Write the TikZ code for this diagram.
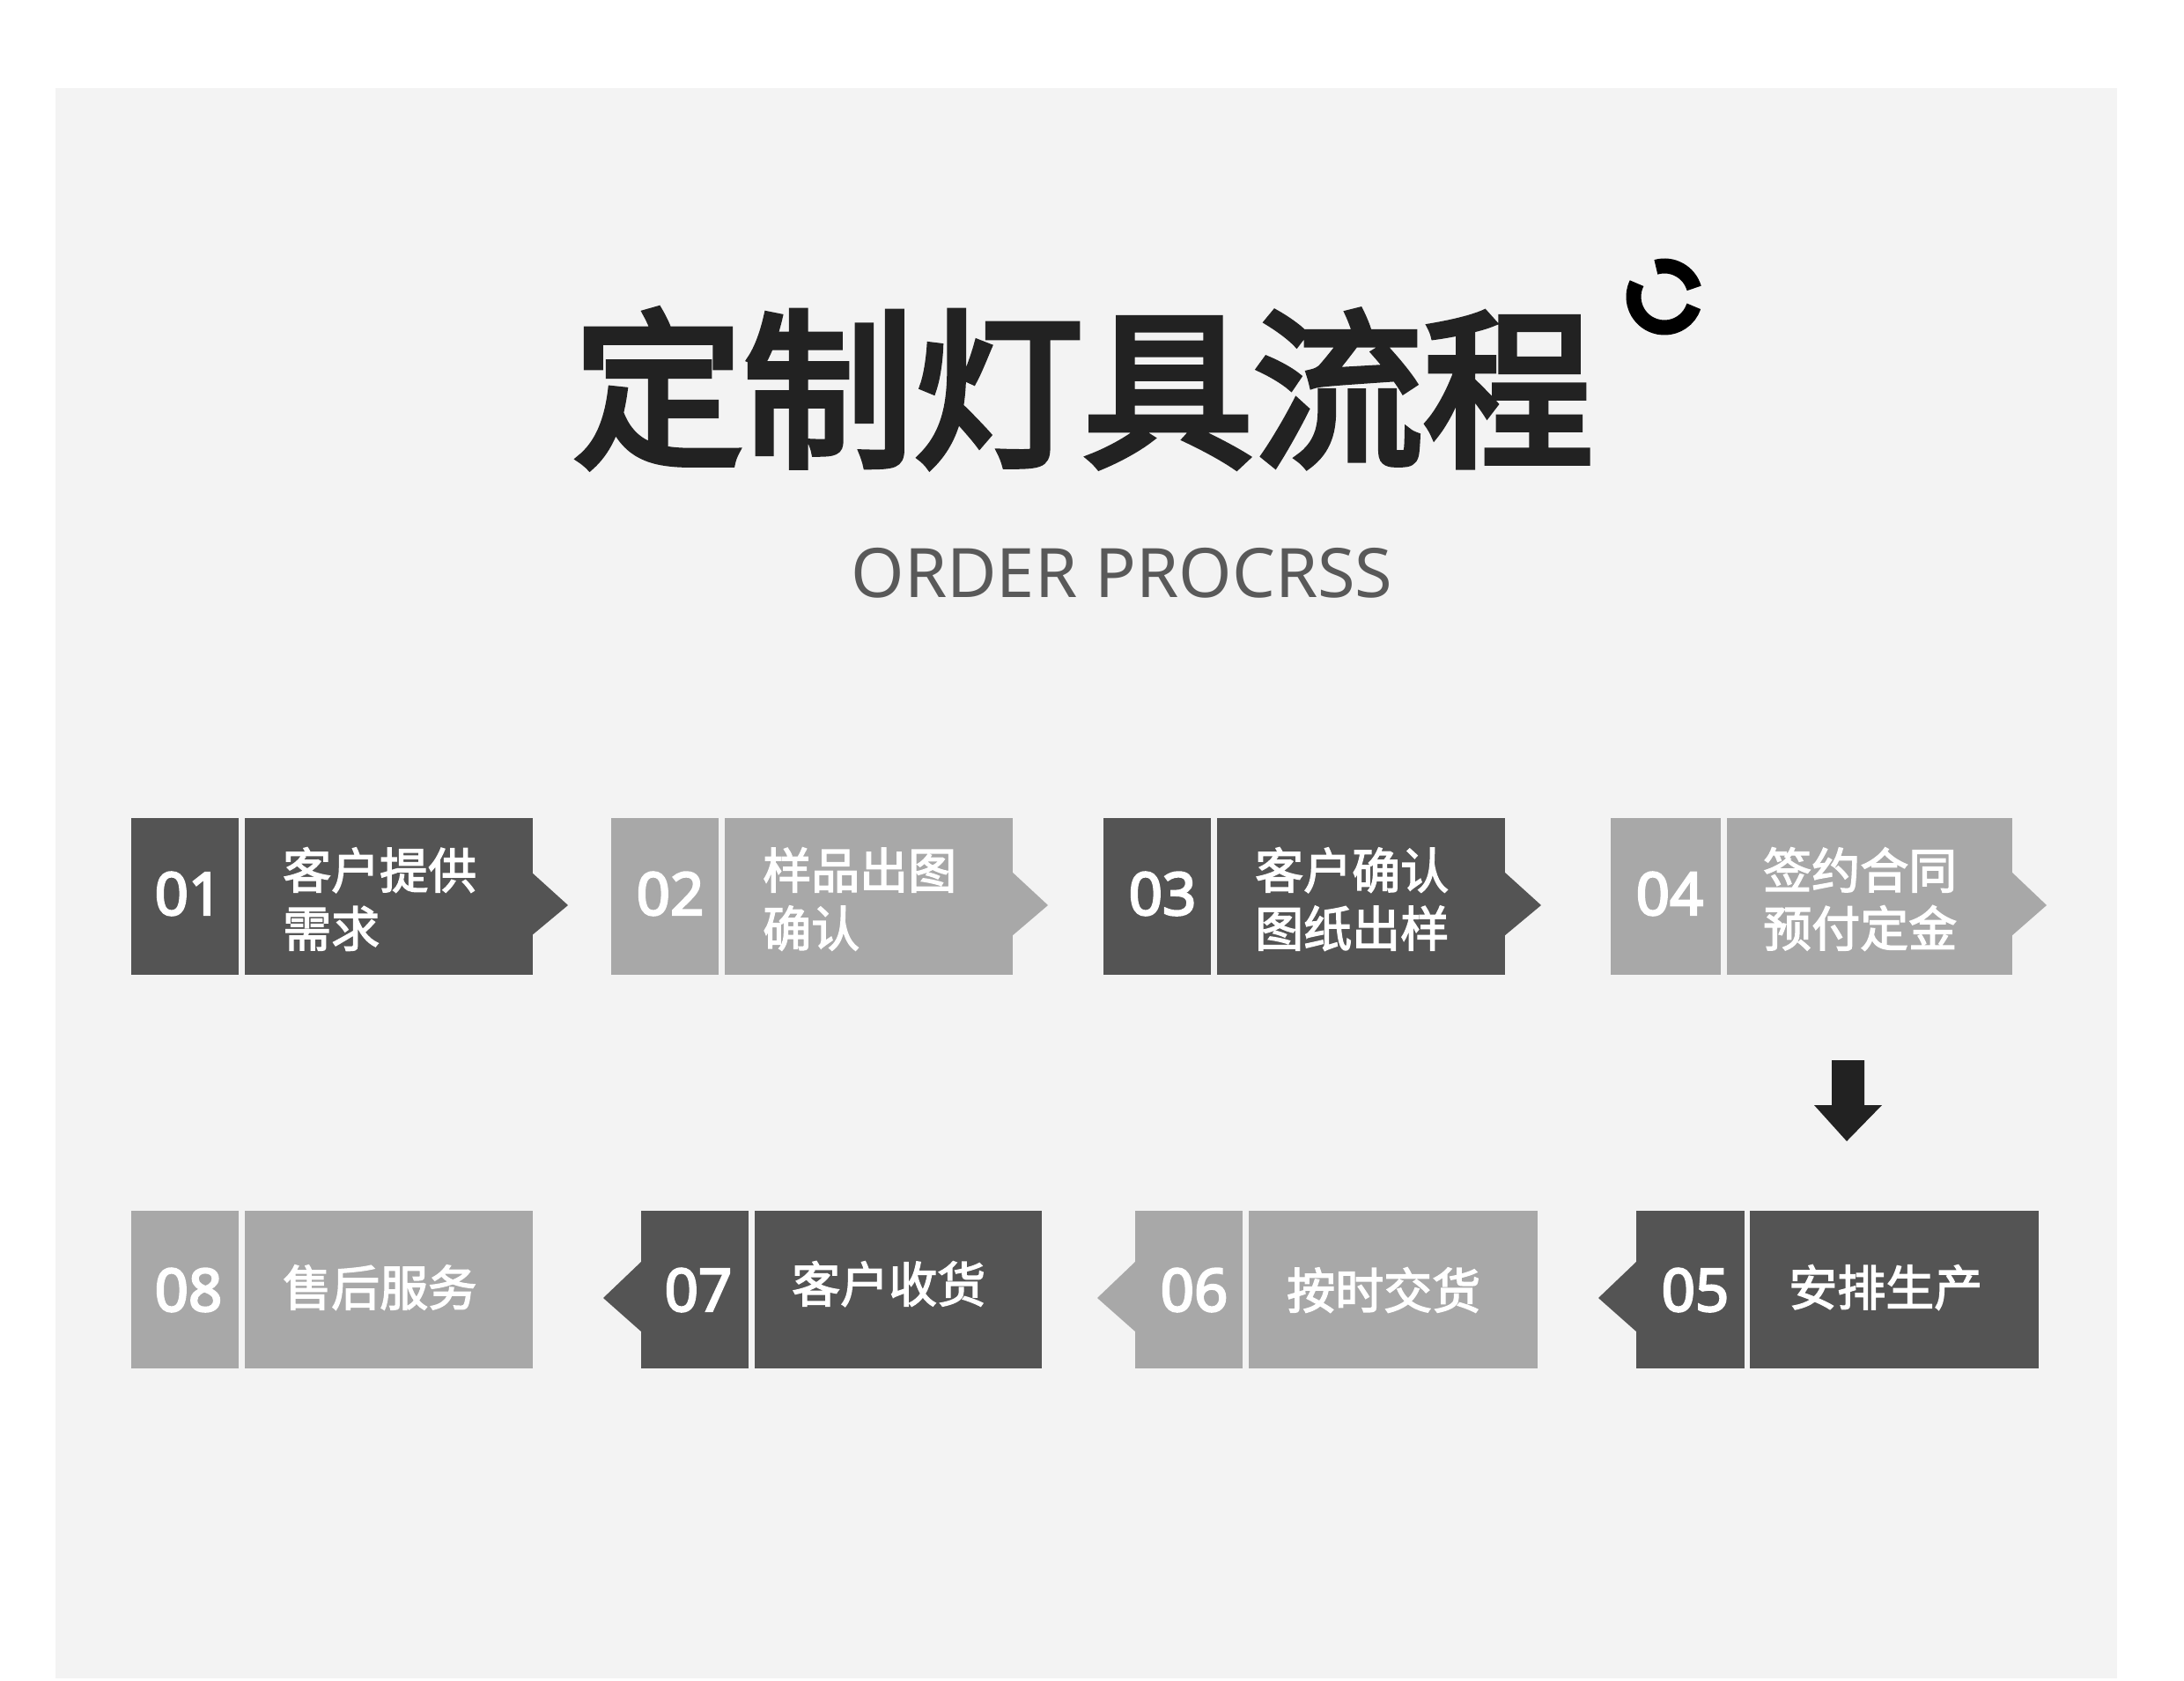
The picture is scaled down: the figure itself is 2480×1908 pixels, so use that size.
\documentclass[tikz,border=0pt]{standalone}
\usepackage{fontspec}
\newfontfamily\titlefont[RawFeature={embolden=4.0}]{Noto Sans CJK SC}
\newfontfamily\cjklabel[RawFeature={embolden=2.6}]{Noto Sans CJK SC}
\newfontfamily\numfont[RawFeature={embolden=3.5}]{Noto Sans}
\newfontfamily\subfont{Noto Sans}
\definecolor{panel}{HTML}{F3F3F3}
\definecolor{stepdark}{HTML}{545454}
\definecolor{steplight}{HTML}{A8A8A8}
\definecolor{ink}{HTML}{222222}
\definecolor{subink}{HTML}{595959}
\tikzset{
  stepbox/.style={inner sep=0pt,outer sep=0pt,draw=none},
  numtext/.style={inner sep=0pt,text=white,font=\numfont\fontsize{67}{67}\selectfont},
  steptext/.style={inner sep=0pt,text=white,align=left,font=\cjklabel\fontsize{55}{66}\selectfont},
}
% id colour x0 x1 y0 y1
\newcommand{\stepnode}[6]{\node[stepbox,fill=#2,minimum width={#4-#3},minimum height={#6-#5}] (#1) at ({(#3+#4)/2},{(#5+#6)/2}) {};}
\begin{document}
\begin{tikzpicture}[x=1pt,y=-1pt]
\useasboundingbox (0,0) rectangle (2480,1908);
\fill[white] (0,0) rectangle (2480,1908);
\fill[panel] (63,100) rectangle (2404,1906);
\node[inner sep=0pt,text=ink,font=\titlefont\fontsize{193}{193}\selectfont] (title) at (1230,441) {定制灯具流程};
\node[inner sep=0pt,text=subink,font=\subfont\fontsize{77.5}{77.5}\selectfont] (sub) at (1274,651) {ORDER PROCRSS};
\begin{scope}[shift={(1890,337)},y=1pt]
\draw[line width=17pt,black] (106:35) arc[start angle=106,end angle=16,radius=35];
\draw[line width=17pt,black] (154:35) arc[start angle=154,end angle=342,radius=35];
\end{scope}
% row 1
\fill[stepdark] (603,990) -- (645,1028) -- (603,1063) -- cycle;
\fill[steplight] (1149,990) -- (1190,1028) -- (1149,1063) -- cycle;
\fill[stepdark] (1708,990) -- (1750,1028) -- (1708,1063) -- cycle;
\fill[steplight] (2284,990) -- (2324,1028) -- (2284,1063) -- cycle;
\stepnode{n1}{stepdark}{149}{271}{929}{1107}
\stepnode{t1}{stepdark}{278}{605}{929}{1107}
\stepnode{n2}{steplight}{694}{816}{929}{1107}
\stepnode{t2}{steplight}{823}{1150}{929}{1107}
\stepnode{n3}{stepdark}{1253}{1375}{929}{1107}
\stepnode{t3}{stepdark}{1382}{1709}{929}{1107}
\stepnode{n4}{steplight}{1829}{1954}{929}{1107}
\stepnode{t4}{steplight}{1961}{2285}{929}{1107}
% row 2
\fill[stepdark] (1859,1432) -- (1815,1474) -- (1859,1513) -- cycle;
\fill[steplight] (1290,1432) -- (1246,1474) -- (1290,1513) -- cycle;
\fill[stepdark] (729,1432) -- (685,1474) -- (729,1513) -- cycle;
\stepnode{n5}{stepdark}{1858}{1981}{1375}{1554}
\stepnode{t5}{stepdark}{1987}{2315}{1375}{1554}
\stepnode{n6}{steplight}{1289}{1411}{1375}{1554}
\stepnode{t6}{steplight}{1418}{1746}{1375}{1554}
\stepnode{n7}{stepdark}{728}{850}{1375}{1554}
\stepnode{t7}{stepdark}{857}{1183}{1375}{1554}
\stepnode{n8}{steplight}{149}{271}{1375}{1554}
\stepnode{t8}{steplight}{278}{605}{1375}{1554}
% numbers
\node[numtext] (l1) at (214,1015) {01};
\node[numtext] (l2) at (761,1015) {02};
\node[numtext] (l3) at (1320,1015) {03};
\node[numtext] (l4) at (1896,1015) {04};
\node[numtext] (l5) at (1925,1465) {05};
\node[numtext] (l6) at (1356,1465) {06};
\node[numtext] (l7) at (793,1465) {07};
\node[numtext] (l8) at (214,1465) {08};
% labels
\node[steptext,anchor=west] (c1) at (321,1021) {客户提供\\需求};
\node[steptext,anchor=west] (c2) at (866,1021) {样品出图\\确认};
\node[steptext,anchor=west] (c3) at (1425,1021) {客户确认\\图纸出样};
\node[steptext,anchor=west] (c4) at (2002,1021) {签约合同\\预付定金};
\node[steptext,anchor=west] (c5) at (2031,1462) {安排生产};
\node[steptext,anchor=west] (c6) at (1461,1465) {按时交货};
\node[steptext,anchor=west] (c7) at (899,1458) {客户收货};
\node[steptext,anchor=west] (c8) at (321,1462) {售后服务};
% arrow
\fill[ink] (2080,1204) -- (2117,1204) -- (2117,1255) -- (2137,1255) -- (2097,1296) -- (2060,1255) -- (2080,1255) -- cycle;
\end{tikzpicture}
\end{document}
